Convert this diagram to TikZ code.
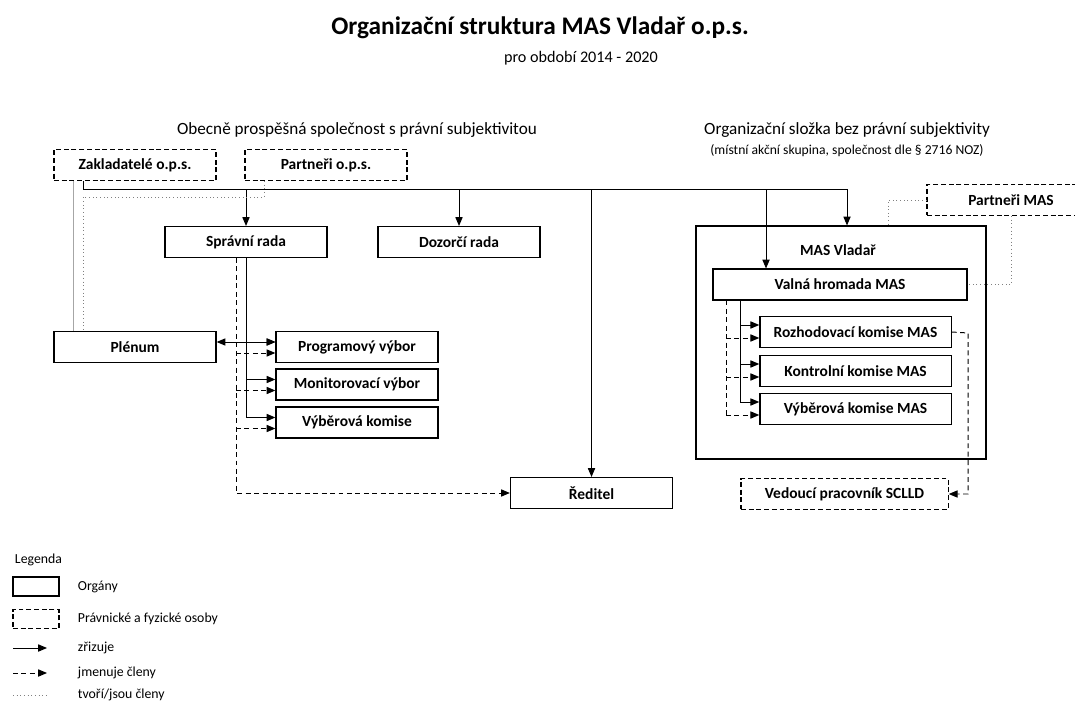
\documentclass[tikz,border=0pt]{standalone}
\usepackage{fontspec}
\setmainfont{Carlito}
\usetikzlibrary{arrows.meta,positioning,calc}

\begin{document}
\begin{tikzpicture}[x=0.025cm, y=-0.025cm,
  obox/.style={draw, line width=0.9pt, minimum width=4.05cm, minimum height=7.7mm, inner sep=1pt, font=\fontsize{11}{13}\selectfont\bfseries},
  dbox/.style={obox, dash pattern=on 3.5pt off 2pt},
  arr/.style={-{Triangle[length=2.2mm,width=1.8mm]}, line width=0.7pt},
  arrtwo/.style={{Triangle[length=2.2mm,width=1.8mm]}-{Triangle[length=2.2mm,width=1.8mm]}, line width=0.7pt},
  jm/.style={arr, dash pattern=on 3.5pt off 2.5pt},
  tvori/.style={gray, line width=0.6pt, dotted},
  lab/.style={font=\fontsize{12.2}{14}\selectfont},
  leg/.style={font=\fontsize{9.8}{11}\selectfont, anchor=west}]
  \useasboundingbox (0,0) rectangle (1075,702);
  \clip (0,0) rectangle (1075,702);
  \fill[white] (0,0) rectangle (1075,702);
  % ---------------- title
  \node[font=\fontsize{18}{22}\selectfont\bfseries] (title) at (540,28) {Organizační struktura MAS Vladař o.p.s.};
  \node[font=\fontsize{11.5}{13}\selectfont] (subtitle) at (581,58) {pro období 2014 - 2020};
  \node[lab] (hops) at (357,130) {Obecně prospěšná společnost s právní subjektivitou};
  \node[lab] (hmas) at (847,130) {Organizační složka bez právní subjektivity};
  \node[font=\fontsize{9.7}{11}\selectfont] (hmastwo) at (847,151) {(místní akční skupina, společnost dle § 2716 NOZ)};
  % ---------------- o.p.s.
  \node[dbox] (zakl) at (135,165) {Zakladatelé o.p.s.};
  \node[dbox] (partops) at (326,165) {Partneři o.p.s.};
  \node[obox] (sprava) at (246,242) {Správní rada};
  \node[obox] (dozor) at (459,242) {Dozorčí rada};
  \node[obox] (plenum) at (135,347) {Plénum};
  \node[obox] (progr) at (357,347) {Programový výbor};
  \node[obox] (monit) at (357,384.5) {Monitorovací výbor};
  \node[obox] (vyber) at (357,422.5) {Výběrová komise};
  \node[obox] (reditel) at (591.5,493) {Ředitel};
  % ---------------- MAS
  \node[obox, minimum width=7.25cm, minimum height=5.82cm] (masbox) at (841,342.5) {};
  \node[font=\fontsize{11}{13}\selectfont\bfseries] (maslbl) at (838,250) {MAS Vladař};
  \node[obox, minimum width=6.35cm] (valna) at (840,284.5) {Valná hromada MAS};
  \node[obox, minimum width=4.78cm] (rozh) at (855.5,332) {Rozhodovací komise MAS};
  \node[obox, minimum width=4.78cm] (kontr) at (855.5,371) {Kontrolní komise MAS};
  \node[obox, minimum width=4.78cm] (vybmas) at (855.5,409) {Výběrová komise MAS};
  \node[dbox, minimum width=5.18cm] (vedouci) at (844.5,494) {Vedoucí pracovník SCLLD};
  \node[dbox, minimum width=4.2cm] (partmas) at (1011,200) {Partneři MAS};
  % ---------------- connectors
  \coordinate (busL) at (83,189);
  \coordinate (busR) at (847,189);
  \coordinate (vdrop) at (766,189);
  \draw[line width=0.7pt] (zakl.south -| busL) -- (busL) -- (busR);
  \draw[arr] (busR) -- (busR |- masbox.north);
  \draw[arr] (vdrop) -- (vdrop |- valna.north);
  \foreach \n in {sprava,dozor,reditel}{\draw[arr] (\n.north |- busL) -- (\n.north);}
  \coordinate (pdrop) at (264,197);
  \coordinate (zl) at (73,189);
  \draw[tvori] (pdrop |- partops.south) -- (pdrop) -| (plenum.north -| busL);
  \draw[gray!70, line width=0.6pt] (zakl.south -| zl) -- (plenum.north -| zl);
  \coordinate (dl) at (236,257);
  \foreach \b in {progr,monit,vyber}{
    \coordinate (\b S) at ($(\b.west)+(0,-5)$);
    \coordinate (\b D) at ($(\b.west)+(0,6)$);
    \draw[arr] (sprava.south |- \b S) -- (\b S);
    \draw[jm] (dl |- \b D) -- (\b D);}
  \draw[line width=0.7pt] (sprava.south) -- (sprava.south |- vyberS);
  \draw[jm] (sprava.south -| dl) |- (reditel.west);
  \draw[arrtwo] (plenum.east |- progrS) -- (progrS);
  \coordinate (vl) at (740,300);
  \coordinate (vd) at (726,300);
  \foreach \b in {rozh,kontr,vybmas}{
    \coordinate (\b S) at ($(\b.west)+(0,-7)$);
    \coordinate (\b D) at ($(\b.west)+(0,6)$);
    \draw[arr] (vl |- \b S) -- (\b S);
    \draw[jm] (vd |- \b D) -- (\b D);}
  \draw[line width=0.7pt] (valna.south -| vl) -- (vl |- vybmasS);
  \draw[dash pattern=on 3.5pt off 2.5pt, line width=0.7pt] (valna.south -| vd) -- (vd |- vybmasD);
  \coordinate (vr) at (968,333);
  \draw[jm] (rozh.east) -- (vr) |- (vedouci.east);
  \coordinate (mr) at (888,200);
  \draw[tvori] (partmas.west) -| (masbox.north -| mr);
  \draw[tvori] (partmas.south) |- (valna.east);
  % ---------------- legend
  \node[leg] (legtitle) at (10,560) {Legenda};
  \node[obox, minimum width=1.15cm, minimum height=4.75mm] (lgo) at (36,586.5) {};
  \node[dbox, minimum width=1.15cm, minimum height=4.75mm] (lgd) at (36,619) {};
  \node[leg] (lgotxt) at (73,586.5) {Orgány};
  \node[leg] (lgdtxt) at (73,619) {Právnické a fyzické osoby};
  \coordinate (lasa) at (13,648); \coordinate (laea) at (47,648);
  \coordinate (lasb) at (13,673); \coordinate (laeb) at (47,673);
  \coordinate (lasc) at (13,695); \coordinate (laec) at (47,695);
  \draw[arr] (lasa) -- (laea);
  \draw[jm] (lasb) -- (laeb);
  \draw[tvori] (lasc) -- (laec);
  \node[leg] (lgatxt) at (73,648) {zřizuje};
  \node[leg] (lgbtxt) at (73,673) {jmenuje členy};
  \node[leg] (lgctxt) at (73,695) {tvoří/jsou členy};
\end{tikzpicture}
\end{document}
